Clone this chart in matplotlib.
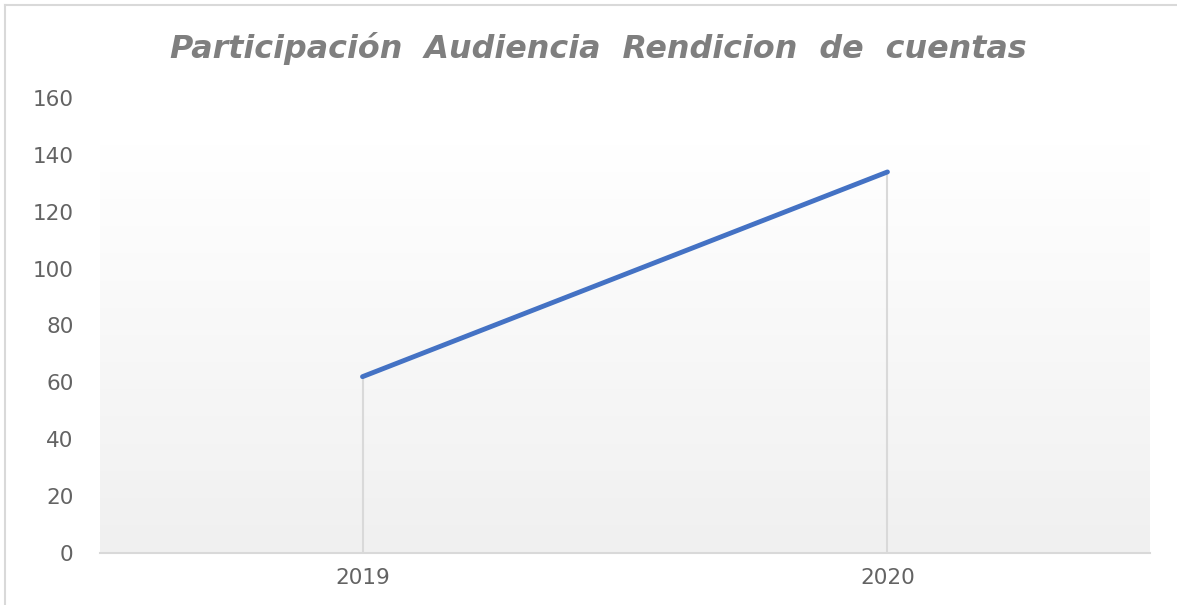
import numpy as np
import matplotlib.pyplot as plt
from matplotlib.lines import Line2D
from matplotlib.colors import LinearSegmentedColormap

years = ["2019", "2020"]
participants = [62, 134]

fig = plt.figure(figsize=(11.77, 6.05), dpi=100)
ax = fig.add_axes([0.085, 0.086, 0.892, 0.752])

x = np.arange(len(years))

# gradient plot-area fill, white at top to light gray at the axis
grad = np.linspace(0, 1, 256).reshape(-1, 1)
ax.imshow(grad, extent=(-0.5, 1.5, 0, 143.5), aspect="auto", origin="upper",
          cmap=LinearSegmentedColormap.from_list("g", ["#ffffff", "#f0f0f0"]),
          zorder=0)

# drop lines
ax.vlines(x, 0, participants, colors="#d9d9d9", lw=1.5, zorder=1)
ax.plot(x, participants, color="#4472C4", lw=3.5, solid_capstyle="round", zorder=2)

ax.set_xlim(-0.5, 1.5)
ax.set_ylim(0, 160)
ax.set_yticks(np.arange(0, 161, 20))
ax.set_xticks(x)
ax.set_xticklabels(years)
for s in ["top", "right", "left"]:
    ax.spines[s].set_visible(False)
ax.spines["bottom"].set_color("#d9d9d9")
ax.spines["bottom"].set_linewidth(1.5)
ax.tick_params(axis="both", length=0, labelsize=15.5, colors="#636363")
ax.tick_params(axis="y", pad=19)
ax.tick_params(axis="x", pad=11)
for lab in ax.get_xticklabels() + ax.get_yticklabels():
    lab.set_fontfamily("DejaVu Sans")

fig.text(0.508, 0.92, "Participación  Audiencia  Rendicion  de  cuentas",
         ha="center", va="center", fontsize=22.9, fontstyle="italic",
         fontweight="bold", color="#7f7f7f", family="DejaVu Sans")

# chart border (left and top only)
fig.add_artist(Line2D([0.0045, 0.0045], [0, 0.992], color="#d9d9d9", lw=1.5))
fig.add_artist(Line2D([0.0045, 1], [0.992, 0.992], color="#d9d9d9", lw=1.5))

plt.savefig("out.png")
